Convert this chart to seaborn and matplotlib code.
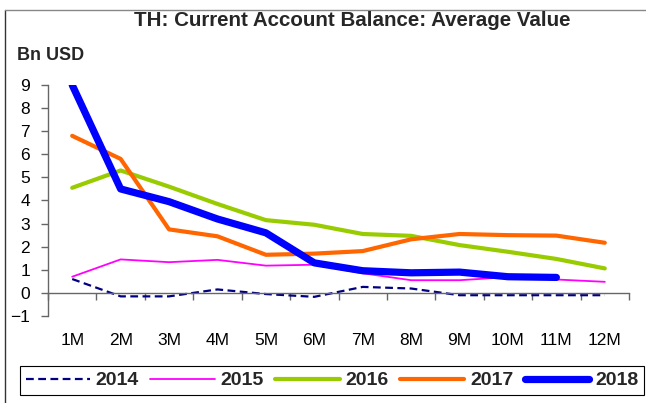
import matplotlib
matplotlib.use("Agg")
import matplotlib.pyplot as plt
from matplotlib.lines import Line2D
import seaborn as sns
import pandas as pd

months = ["1M", "2M", "3M", "4M", "5M", "6M", "7M", "8M", "9M", "10M", "11M", "12M"]
y2014 = [0.60, -0.15, -0.15, 0.15, -0.05, -0.17, 0.26, 0.19, -0.10, -0.10, -0.10, -0.10]
y2015 = [0.70, 1.45, 1.33, 1.43, 1.18, 1.22, 0.85, 0.55, 0.55, 0.68, 0.58, 0.48]
y2016 = [4.55, 5.30, 4.60, 3.85, 3.15, 2.95, 2.55, 2.47, 2.07, 1.78, 1.47, 1.06]
y2017 = [6.80, 5.80, 2.75, 2.45, 1.65, 1.70, 1.81, 2.32, 2.55, 2.50, 2.48, 2.17]
y2018 = [9.00, 4.50, 3.95, 3.20, 2.60, 1.30, 0.96, 0.87, 0.90, 0.70, 0.67]

series = [
    ("2014", y2014, "#000080", 1.6, (0, (3.5, 2))),
    ("2015", y2015, "#FF00FF", 1.3, "-"),
    ("2016", y2016, "#99CC00", 3.0, "-"),
    ("2017", y2017, "#FF6600", 3.0, "-"),
    ("2018", y2018, "#0000FF", 5.2, "-"),
]

sns.set_theme(style="white")
plt.rcParams["font.family"] = ["Liberation Sans", "DejaVu Sans"]

fig = plt.figure(figsize=(6.46, 4.03), dpi=100)
ax = fig.add_axes([48 / 646, 1 - 316 / 403, 581 / 646, 231 / 403])

handles = []
for name, vals, color, lw, ls in series:
    df = pd.DataFrame({"x": list(range(1, len(vals) + 1)), "y": vals})
    sns.lineplot(data=df, x="x", y="y", ax=ax, color=color, linewidth=lw,
                 linestyle=ls, solid_capstyle="round", legend=False)
    handles.append(Line2D([], [], color=color, linewidth=lw, linestyle=ls,
                          solid_capstyle="round", label=name))

ax.set_xlim(0.5, 12.5)
ax.set_ylim(-1, 9)
ax.set_xlabel("")
ax.set_ylabel("")

# axes: left spine plus a horizontal axis line through zero
for s in ("top", "right"):
    ax.spines[s].set_visible(False)
axis_col = "#666666"
ax.spines["left"].set_color(axis_col)
ax.spines["bottom"].set_color(axis_col)
ax.spines["left"].set_linewidth(1.0)
ax.spines["bottom"].set_linewidth(1.0)
ax.spines["bottom"].set_position(("data", 0))

ax.set_yticks(range(-1, 10))
ax.tick_params(axis="y", direction="out", length=5, width=1, color=axis_col,
               labelsize=12.5, labelcolor="black", pad=8, left=True)

ax.set_xticks(range(1, 13))
ax.set_xticklabels(months)
ax.set_xticks([i + 0.5 for i in range(0, 13)], minor=True)
ax.tick_params(axis="x", which="major", length=0, labelsize=12.5,
               labelcolor="black", pad=29)
ax.tick_params(axis="x", which="minor", direction="out", length=5, width=1,
               color=axis_col, bottom=True)
ax.grid(False)

fig.text(352 / 646, 1 - 21 / 403, "TH: Current Account Balance: Average Value",
         ha="center", va="center", fontsize=14.8, fontweight="bold")
fig.text(17 / 646, 1 - 55 / 403, "Bn USD", ha="left", va="center",
         fontsize=13, fontweight="bold")

leg = fig.legend(handles=handles, loc="center", ncol=5,
                 bbox_to_anchor=(332 / 646, 1 - 380.5 / 403),
                 frameon=True, fancybox=False, framealpha=1,
                 edgecolor="black", borderpad=0.3, handlelength=3.3,
                 handletextpad=0.3, columnspacing=0.6, borderaxespad=0,
                 prop={"weight": "bold", "size": 14})
leg.get_frame().set_linewidth(0.8)

# outer frame of the panel
fig.add_artist(Line2D([5 / 646, 5 / 646], [0, 1 - 10 / 403], color="#333333",
                      linewidth=1.0, transform=fig.transFigure))
fig.add_artist(Line2D([5 / 646, 1], [1 - 10 / 403, 1 - 10 / 403], color="#888888",
                      linewidth=1.0, transform=fig.transFigure))

fig.savefig("out.png", dpi=100)
